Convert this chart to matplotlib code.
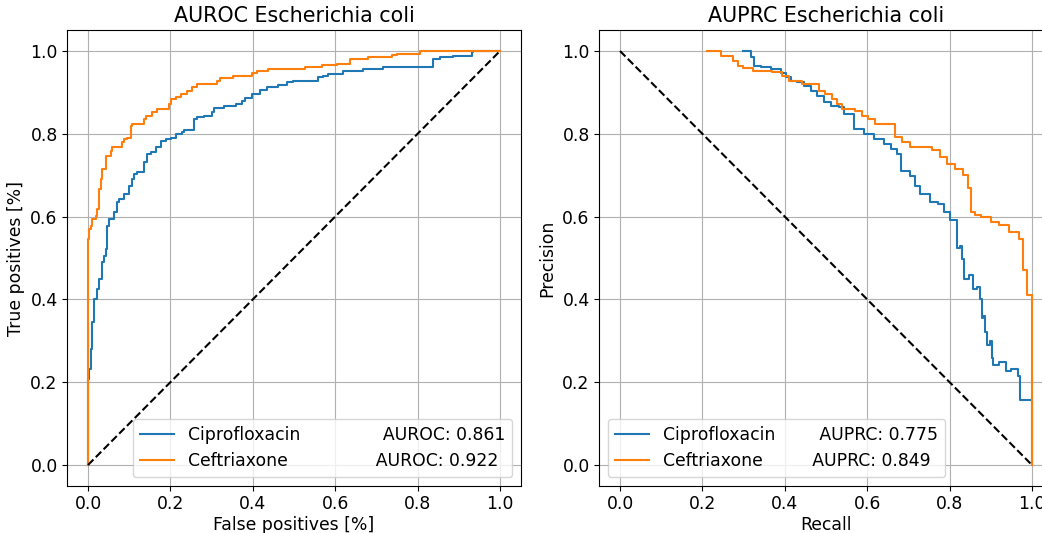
import numpy as np
import matplotlib
matplotlib.use("Agg")
import matplotlib.pyplot as plt

# ROC curves (false positive rate, true positive rate)
cipro_fpr = [0, 0, 0.002, 0.007, 0.01, 0.015, 0.023, 0.027, 0.035, 0.039, 0.043, 0.047, 0.051, 0.063,
             0.071, 0.075, 0.087, 0.1, 0.108, 0.112, 0.12, 0.136, 0.144, 0.152, 0.164, 0.176, 0.189,
             0.201, 0.213, 0.229, 0.233, 0.257, 0.265, 0.282, 0.302, 0.306, 0.33, 0.36, 0.373, 0.381,
             0.397, 0.417, 0.434, 0.462, 0.482, 0.498, 0.559, 0.571, 0.583, 0.62, 0.668, 0.717,
             0.765, 0.838, 0.854, 0.887, 0.931, 0.935, 0.98, 1.0]
cipro_tpr = [0, 0.152, 0.208, 0.232, 0.28, 0.345, 0.401, 0.425, 0.449, 0.49, 0.506, 0.522, 0.578, 0.594,
             0.61, 0.635, 0.643, 0.655, 0.675, 0.691, 0.703, 0.707, 0.731, 0.751, 0.755, 0.767, 0.783,
             0.787, 0.791, 0.80, 0.804, 0.808, 0.836, 0.84, 0.844, 0.852, 0.862, 0.866, 0.872, 0.88,
             0.886, 0.896, 0.906, 0.912, 0.919, 0.924, 0.927, 0.936, 0.94, 0.944, 0.951, 0.957,
             0.961, 0.962, 0.981, 0.986, 0.989, 0.997, 1.0, 1.0]

ceftr_fpr = [0, 0, 0.002, 0.007, 0.01, 0.019, 0.023, 0.027, 0.031, 0.035, 0.043, 0.055, 0.059, 0.083,
             0.087, 0.095, 0.104, 0.107, 0.136, 0.14, 0.156, 0.168, 0.197, 0.201, 0.213, 0.225, 0.241,
             0.253, 0.265, 0.269, 0.312, 0.32, 0.353, 0.397, 0.409, 0.438, 0.527, 0.567, 0.604,
             0.636, 0.68, 0.737, 0.749, 0.806, 0.846, 1.0]
ceftr_tpr = [0, 0.539, 0.546, 0.57, 0.578, 0.594, 0.602, 0.618, 0.667, 0.69, 0.715, 0.747, 0.759, 0.767,
             0.779, 0.787, 0.791, 0.82, 0.824, 0.836, 0.844, 0.853, 0.86, 0.872, 0.884, 0.888, 0.896,
             0.904, 0.912, 0.92, 0.92, 0.927, 0.935, 0.94, 0.946, 0.952, 0.957, 0.962, 0.965,
             0.969, 0.981, 0.985, 0.991, 0.993, 1.0, 1.0]

# PR curves (recall, precision)
cipro_rec = [0.298, 0.31, 0.318, 0.326, 0.342, 0.366, 0.39, 0.402, 0.414, 0.43, 0.447, 0.463, 0.479,
             0.495, 0.511, 0.531, 0.543, 0.568, 0.568, 0.592, 0.616, 0.641, 0.657, 0.673, 0.681,
             0.705, 0.717, 0.729, 0.753, 0.773, 0.786, 0.802, 0.818, 0.818, 0.826, 0.83, 0.834,
             0.846, 0.858, 0.866, 0.874, 0.878, 0.882, 0.886, 0.89, 0.898, 0.902, 0.906, 0.92,
             0.938, 0.95, 0.966, 0.97, 0.994, 1.0]
cipro_prec = [1.0, 1.0, 0.986, 0.964, 0.962, 0.956, 0.948, 0.936, 0.928, 0.924, 0.916, 0.904, 0.892,
              0.876, 0.868, 0.864, 0.848, 0.836, 0.811, 0.80, 0.787, 0.775, 0.763, 0.751, 0.711,
              0.699, 0.675, 0.655, 0.635, 0.631, 0.611, 0.591, 0.575, 0.523, 0.53, 0.498, 0.45,
              0.46, 0.426, 0.43, 0.402, 0.354, 0.36, 0.322, 0.29, 0.30, 0.258, 0.242, 0.25,
              0.226, 0.232, 0.214, 0.158, 0.158, 0.0]

ceftr_rec = [0.21, 0.238, 0.246, 0.262, 0.274, 0.286, 0.298, 0.322, 0.37, 0.394, 0.41, 0.442, 0.474,
             0.482, 0.498, 0.514, 0.526, 0.539, 0.57, 0.587, 0.603, 0.62, 0.668, 0.668, 0.684, 0.704,
             0.757, 0.777, 0.793, 0.813, 0.833, 0.845, 0.853, 0.853, 0.861, 0.877, 0.901, 0.921,
             0.945, 0.969, 0.977, 0.989, 0.989, 0.997, 1.0]
ceftr_prec = [1.0, 1.0, 0.989, 0.989, 0.976, 0.964, 0.96, 0.952, 0.949, 0.94, 0.928, 0.92, 0.92,
              0.904, 0.896, 0.884, 0.872, 0.86, 0.856, 0.844, 0.836, 0.824, 0.824, 0.792, 0.78, 0.768,
              0.76, 0.744, 0.728, 0.716, 0.70, 0.668, 0.643, 0.611, 0.604, 0.599, 0.587, 0.579,
              0.563, 0.547, 0.471, 0.471, 0.41, 0.41, 0.0]

drugs = ["Ciprofloxacin", "Ceftriaxone"]
auroc = [0.861, 0.922]
auprc = [0.775, 0.849]
species = "Escherichia coli"

plt.rcParams['font.size'] = 12.4

W, H = 1042, 533
fig = plt.figure(figsize=(W / 100, H / 100), dpi=100)
ax1 = fig.add_axes([67.4 / W, (H - 485.7) / H, 453.2 / W, 455.4 / H])
ax2 = fig.add_axes([599.4 / W, (H - 485.7) / H, 453.2 / W, 455.4 / H])

# ROC
roc_pad = [15, 16]
ax1.plot(cipro_fpr, cipro_tpr, drawstyle='steps-pre',
         label=drugs[0] + ' ' * roc_pad[0] + f"AUROC: {auroc[0]:.3f}")
ax1.plot(ceftr_fpr, ceftr_tpr, drawstyle='steps-pre',
         label=drugs[1] + ' ' * roc_pad[1] + f"AUROC: {auroc[1]:.3f}")
ax1.plot([0, 1], [0, 1], 'k--')
ax1.set_title(f"AUROC {species}")
ax1.set_xlabel("False positives [%]", labelpad=2)
ax1.set_ylabel("True positives [%]")
ax1.grid(True)
ax1.legend(loc='lower right')

# PR
prc_pad = [8, 9]
ax2.plot(cipro_rec, cipro_prec, drawstyle='steps-post',
         label=drugs[0] + ' ' * prc_pad[0] + f"AUPRC: {auprc[0]:.3f}")
ax2.plot(ceftr_rec, ceftr_prec, drawstyle='steps-post',
         label=drugs[1] + ' ' * prc_pad[1] + f"AUPRC: {auprc[1]:.3f}")
ax2.plot([0, 1], [1, 0], 'k--')
ax2.set_title(f"AUPRC {species}")
ax2.set_xlabel("Recall", labelpad=2)
ax2.set_ylabel("Precision")
ax2.grid(True)
ax2.legend(loc='lower left')

for ax in (ax1, ax2):
    ax.set_xticks(np.arange(0, 1.01, 0.2))
    ax.set_yticks(np.arange(0, 1.01, 0.2))

fig.savefig("out.png", dpi=100)
